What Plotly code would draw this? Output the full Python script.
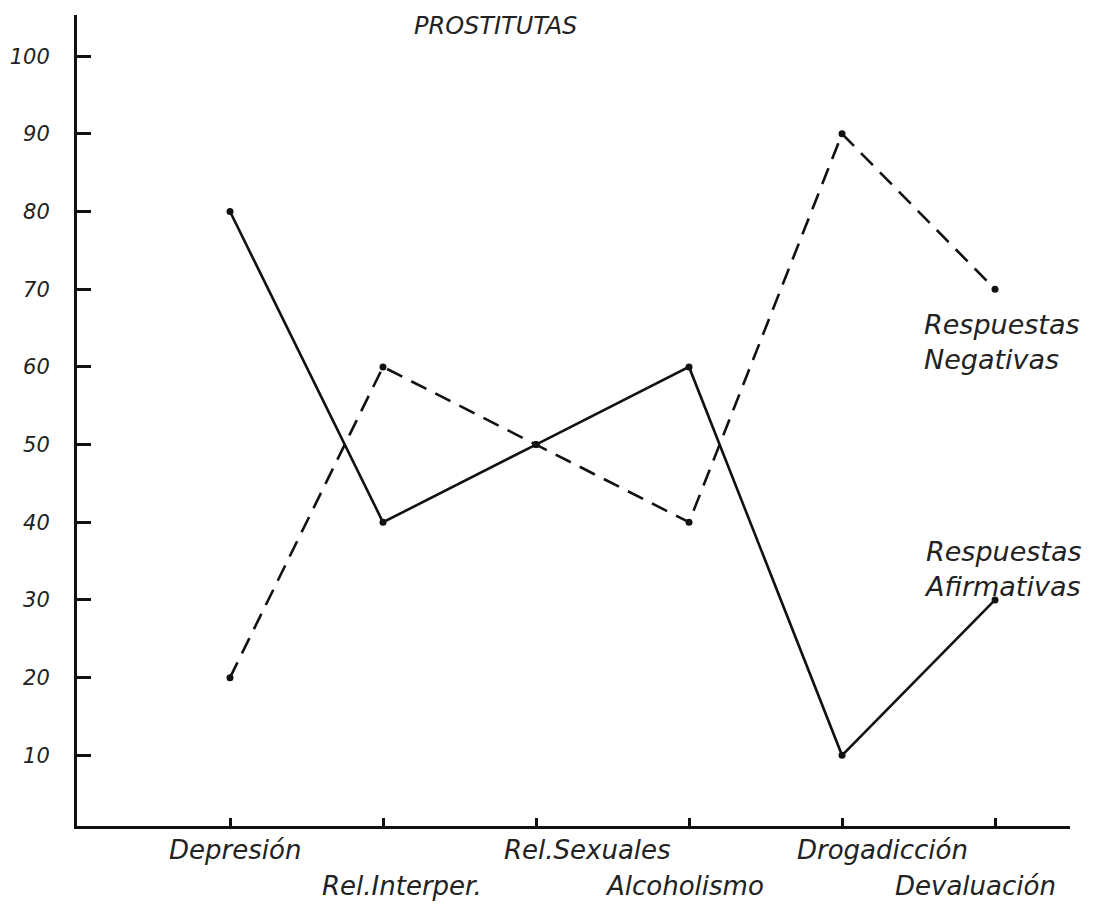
import plotly.graph_objects as go

categorias = ["Depresión", "Rel.Interper.", "Rel.Sexuales", "Alcoholismo", "Drogadicción", "Devaluación"]
afirmativas = [80, 40, 50, 60, 10, 30]
negativas = [20, 60, 50, 40, 90, 70]
y_ticks = [10, 20, 30, 40, 50, 60, 70, 80, 90, 100]
titulo = "PROSTITUTAS"

FONT = "DejaVu Sans"
TXT = "#222"
fig = go.Figure()
fig.add_trace(go.Scatter(x=categorias, y=afirmativas, mode="lines+markers",
                         line=dict(color="#111", width=2.6),
                         marker=dict(color="#111", size=7), name="Respuestas Afirmativas"))
fig.add_trace(go.Scatter(x=categorias, y=negativas, mode="lines+markers",
                         line=dict(color="#111", width=2.6, dash="17px,10px"),
                         marker=dict(color="#111", size=7), name="Respuestas Negativas"))

fig.update_layout(
    width=1103, height=907,
    margin=dict(l=77, r=33, t=15, b=81),
    paper_bgcolor="white", plot_bgcolor="white",
    showlegend=False,
    font=dict(family=FONT, color=TXT, size=22),
    xaxis=dict(type="category", range=[-1.0, 5.49], showgrid=False, zeroline=False,
               showline=True, linecolor="#111", linewidth=3, automargin=False,
               ticks="inside", ticklen=8, tickwidth=3, tickcolor="#111",
               showticklabels=False),
    yaxis=dict(range=[0.9, 105.3], showgrid=False, zeroline=False,
               showline=True, linecolor="#111", linewidth=3, automargin=False,
               ticks="inside", ticklen=14, tickwidth=3, tickcolor="#111",
               tickvals=y_ticks, ticktext=[str(v) for v in y_ticks],
               tickfont=dict(family=FONT, size=21, style="italic", color=TXT),
               ticklabelstandoff=20),
)

# staggered category labels
shifts = [5, 19, 51, -5, 40, -20]
for i, c in enumerate(categorias):
    fig.add_annotation(x=c, y=0, yref="paper", xref="x", text=c, showarrow=False,
                       xshift=shifts[i], yanchor="top", yshift=-7 if i % 2 == 0 else -43,
                       font=dict(family=FONT, size=26, style="italic", color=TXT))

fig.add_annotation(x=0.421, xref="paper", y=1.0, yref="paper", text=titulo, showarrow=False,
                   yanchor="top", yshift=5,
                   font=dict(family=FONT, size=24, style="italic", color=TXT))

fig.add_annotation(x=categorias[5], y=negativas[5], text="Respuestas<br>Negativas", showarrow=False,
                   xanchor="left", yanchor="top", xshift=-73, yshift=-18, align="left",
                   font=dict(family=FONT, size=27, style="italic", color=TXT))
fig.add_annotation(x=categorias[5], y=afirmativas[5], text="Respuestas<br>Afirmativas", showarrow=False,
                   xanchor="left", yanchor="bottom", xshift=-73, yshift=-4, align="left",
                   font=dict(family=FONT, size=27, style="italic", color=TXT))

fig.write_html("out.html", config={"displayModeBar": False},
               post_script="document.body.style.margin='0';")
